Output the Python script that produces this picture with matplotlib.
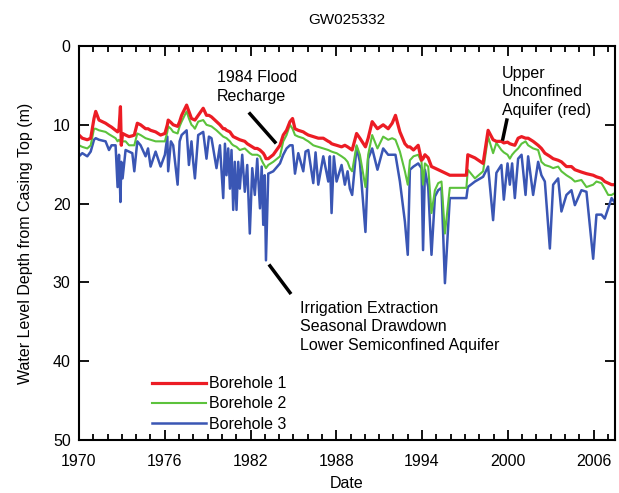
import matplotlib
matplotlib.use("Agg")
import matplotlib.pyplot as plt

plt.rcParams['font.family'] = ['Liberation Sans', 'DejaVu Sans']

# decimal year, depth below casing top (m)
year = [1970.00, 1970.23, 1970.58, 1970.82, 1971.05, 1971.17, 1971.40, 1971.86,
        1972.10, 1972.28, 1972.56, 1972.70, 1972.80, 1972.90, 1972.96, 1973.05,
        1973.26, 1973.50, 1973.73, 1973.87, 1974.08, 1974.31, 1974.66, 1974.83,
        1975.01, 1975.36, 1975.71, 1976.01, 1976.18, 1976.24, 1976.43, 1976.59,
        1976.90, 1977.04, 1977.18, 1977.53, 1977.69, 1977.87, 1977.99, 1978.11,
        1978.34, 1978.69, 1978.92, 1979.09, 1979.27, 1979.62, 1979.86, 1980.09,
        1980.21, 1980.32, 1980.44, 1980.56, 1980.67, 1980.79, 1980.90, 1981.02,
        1981.14, 1981.25, 1981.42, 1981.60, 1981.77, 1981.95, 1982.12, 1982.30,
        1982.47, 1982.66, 1982.78, 1982.89, 1982.99, 1983.08, 1983.24, 1983.59,
        1984.06, 1984.29, 1984.52, 1984.76, 1984.94, 1985.11, 1985.34, 1985.69,
        1985.85, 1986.04, 1986.39, 1986.55, 1986.74, 1987.09, 1987.44, 1987.55,
        1987.67, 1987.83, 1988.02, 1988.37, 1988.60, 1988.79, 1988.95, 1989.11,
        1989.42, 1989.65, 1990.04, 1990.23, 1990.51, 1990.88, 1991.28, 1991.63,
        1991.91, 1992.14, 1992.45, 1992.80, 1993.00, 1993.15, 1993.40, 1993.73,
        1993.96, 1994.07, 1994.20, 1994.43, 1994.66, 1994.90, 1995.13, 1995.36,
        1995.60, 1995.94, 1997.10, 1997.20, 1997.70, 1998.27, 1998.62, 1998.97,
        1999.20, 1999.55, 1999.72, 1999.98, 2000.14, 2000.30, 2000.49, 2000.72,
        2000.96, 2001.24, 2001.42, 2001.77, 2002.12, 2002.35, 2002.59, 2002.94,
        2003.17, 2003.52, 2003.75, 2004.10, 2004.45, 2004.69, 2005.15, 2005.50,
        2005.97, 2006.20, 2006.55, 2006.78, 2007.02, 2007.26, 2007.45]

borehole1 = [11.3, 11.7, 11.9, 11.7, 9.2, 8.3, 9.4, 9.8,
             10.1, 10.3, 10.7, 10.9, 10.5, 7.7, 12.6, 11.1,
             11.3, 11.5, 11.4, 11.3, 9.8, 10.0, 10.5, 10.5,
             10.7, 10.9, 11.3, 11.1, 10.0, 9.4, 9.7, 10.0,
             10.2, 9.6, 8.8, 7.5, 8.3, 9.2, 9.3, 9.4,
             8.8, 7.9, 8.8, 8.8, 9.0, 9.6, 10.0, 10.5,
             10.5, 10.7, 10.8, 10.9, 11.2, 11.5, 11.6, 11.7,
             11.8, 11.9, 12.0, 12.1, 12.4, 12.6, 12.8, 13.0,
             13.0, 13.2, 13.4, 13.6, 13.9, 14.3, 14.3, 13.8,
             12.6, 11.3, 10.7, 9.6, 9.2, 10.5, 10.7, 10.9,
             11.1, 11.3, 11.5, 11.6, 11.7, 11.7, 12.1, 12.2,
             12.4, 12.5, 12.6, 12.8, 12.6, 12.8, 13.0, 13.2,
             11.1, 11.7, 12.8, 11.7, 9.6, 10.5, 10.0, 10.5,
             9.8, 8.8, 10.9, 12.4, 12.8, 12.8, 13.2, 12.6,
             14.5, 14.3, 13.8, 14.2, 15.3, 15.5, 15.7, 15.9,
             16.1, 16.4, 16.4, 13.8, 14.2, 14.9, 10.7, 11.9,
             12.1, 12.1, 12.3, 12.2, 12.4, 12.5, 12.6, 11.7,
             11.5, 11.7, 11.7, 12.1, 12.6, 13.0, 13.6, 14.0,
             14.3, 14.5, 14.7, 15.3, 15.3, 15.7, 16.0, 16.2,
             16.4, 16.6, 16.8, 17.2, 17.4, 17.6, 17.6]

borehole2 = [12.6, 12.8, 13.0, 12.6, 10.5, 10.5, 10.7, 10.9,
             11.2, 11.4, 11.7, 12.1, 11.9, 12.1, 12.4, 12.1,
             12.1, 12.6, 12.6, 12.6, 11.1, 11.3, 11.7, 11.8,
             11.9, 12.1, 12.1, 12.1, 10.9, 10.2, 10.5, 10.9,
             11.1, 10.2, 9.6, 8.3, 9.2, 10.0, 10.2, 10.5,
             9.6, 9.4, 10.0, 10.1, 10.2, 10.7, 11.1, 11.5,
             11.6, 11.7, 11.9, 12.1, 12.4, 12.6, 12.7, 12.8,
             13.0, 13.2, 13.1, 13.0, 13.3, 13.6, 13.8, 13.8,
             13.8, 14.0, 14.5, 14.9, 15.2, 15.5, 15.1, 14.7,
             14.0, 12.1, 11.3, 10.0, 10.5, 11.3, 11.5, 11.7,
             11.9, 12.1, 12.6, 12.7, 12.8, 13.0, 13.2, 13.3,
             13.4, 13.5, 13.6, 14.0, 14.3, 14.7, 15.5, 15.9,
             12.6, 13.8, 17.9, 13.8, 11.3, 13.0, 11.5, 11.9,
             11.7, 11.9, 13.4, 15.9, 17.6, 14.5, 14.0, 13.8,
             14.7, 17.6, 14.9, 15.3, 21.2, 18.3, 17.4, 17.2,
             23.8, 18.0, 18.0, 15.7, 16.8, 15.9, 11.5, 13.6,
             12.3, 13.2, 13.5, 13.8, 14.3, 13.8, 13.4, 13.0,
             12.4, 12.1, 12.6, 13.0, 13.2, 14.7, 15.1, 15.3,
             15.5, 15.3, 15.9, 16.4, 16.8, 17.2, 17.0, 17.9,
             17.6, 17.2, 17.4, 18.1, 18.9, 18.9, 18.7]

borehole3 = [14.0, 13.6, 14.0, 13.4, 11.9, 11.7, 11.9, 12.1,
             13.2, 12.6, 12.6, 17.9, 13.8, 19.8, 14.7, 16.8,
             13.2, 13.4, 13.6, 15.9, 12.1, 12.6, 14.0, 13.0,
             15.3, 13.4, 15.3, 13.8, 11.5, 15.9, 12.1, 12.6,
             17.6, 12.1, 11.3, 10.7, 15.1, 12.1, 14.7, 16.8,
             11.3, 10.9, 14.3, 11.5, 11.7, 15.5, 12.6, 19.3,
             12.4, 16.4, 13.0, 18.1, 13.2, 20.8, 14.7, 20.8,
             14.7, 18.1, 13.8, 18.5, 15.1, 23.8, 15.5, 18.9,
             14.3, 20.6, 15.3, 22.7, 16.4, 27.2, 16.2, 15.9,
             14.9, 13.8, 13.0, 12.6, 12.6, 16.2, 13.6, 15.9,
             13.4, 13.2, 17.4, 13.5, 17.6, 14.0, 17.2, 14.0,
             21.2, 14.0, 17.2, 15.1, 17.6, 15.9, 18.1, 18.9,
             12.8, 14.7, 23.6, 14.3, 13.0, 15.7, 13.0, 13.8,
             13.8, 13.8, 17.2, 22.3, 26.5, 15.7, 15.3, 14.9,
             15.5, 25.9, 15.7, 17.9, 26.5, 19.1, 18.3, 18.0,
             30.1, 19.3, 19.3, 17.9, 17.2, 16.6, 15.3, 22.1,
             16.1, 15.1, 19.5, 14.9, 17.6, 14.9, 19.3, 14.3,
             13.8, 18.9, 14.0, 18.9, 14.7, 16.4, 17.2, 25.7,
             17.6, 16.8, 21.0, 18.9, 18.3, 20.2, 18.3, 18.5,
             27.0, 21.4, 21.4, 21.9, 20.6, 19.3, 19.8]

labels = ['Borehole 1', 'Borehole 2', 'Borehole 3']
colors = ['#ec1c24', '#5cc23c', '#3a56b4']

fig = plt.figure(figsize=(6.19, 4.93), dpi=100)
ax = fig.add_axes([0.1276, 0.1075, 0.866, 0.7992])

# blue underneath, red on top
ax.plot(year, borehole3, color=colors[2], lw=1.8, label=labels[2])
ax.plot(year, borehole2, color=colors[1], lw=1.5, label=labels[1])
ax.plot(year, borehole1, color=colors[0], lw=2.3, label=labels[0])

ax.set_xlim(1970, 2007.5)
ax.set_ylim(50, 0)
ax.set_xticks(range(1970, 2007, 6))
ax.set_xticks(range(1970, 2008), minor=True)
ax.set_yticks(range(0, 51, 10))
ax.tick_params(which='both', direction='in', top=True, right=True,
               labelsize=11.5, width=1.3)
ax.tick_params(which='major', length=7)
ax.tick_params(which='minor', length=4)
ax.tick_params(axis='x', which='major', pad=10)
ax.tick_params(axis='y', which='major', pad=6)
for s in ax.spines.values():
    s.set_linewidth(1.5)

ax.set_xlabel('Date', fontsize=11.5, labelpad=5)
ax.set_ylabel('Water Level Depth from Casing Top (m)', fontsize=11.5, labelpad=14)
ax.set_title('GW025332', fontsize=11, pad=16)

# annotations
ax.text(1979.65, 3.1, '1984 Flood\nRecharge', fontsize=11.5, va='top',
        linespacing=1.3)
ax.plot([1981.96, 1983.71], [8.6, 12.2], color='black', lw=2.5)
ax.text(1985.45, 32.3, 'Irrigation Extraction\nSeasonal Drawdown\nLower Semiconfined Aquifer',
        fontsize=11.5, va='top', linespacing=1.3)
ax.plot([1983.36, 1984.76], [27.9, 31.3], color='black', lw=2.5)
ax.text(1999.58, 2.5, 'Upper\nUnconfined\nAquifer (red)', fontsize=11.5, va='top',
        linespacing=1.3)
ax.plot([1999.93, 1999.65], [9.4, 11.8], color='black', lw=2.5)

handles, labs = ax.get_legend_handles_labels()
ax.legend(handles[::-1], labs[::-1], loc='upper left', bbox_to_anchor=(0.136, 0.162),
          frameon=False, fontsize=11.5, handlelength=3.4, handletextpad=0.2,
          labelspacing=0.33, borderpad=0, borderaxespad=0)

fig.savefig('out.png', dpi=100)
